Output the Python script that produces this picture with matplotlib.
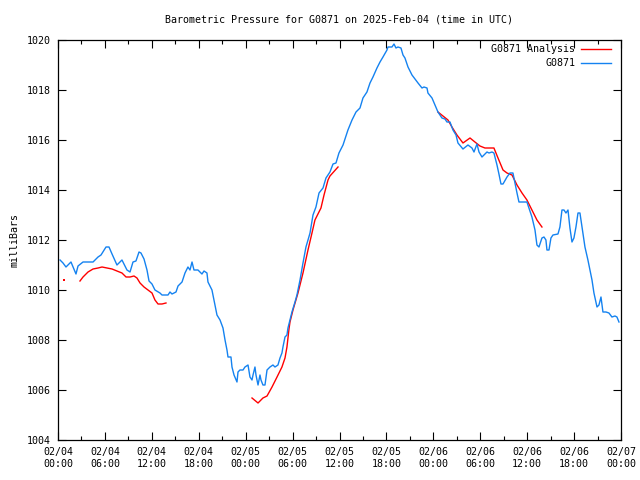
import numpy as np
import matplotlib
matplotlib.use("Agg")
from matplotlib import pyplot as plt
from matplotlib.ticker import MultipleLocator, FuncFormatter

# hours since 2025-02-04 00:00 UTC, pressure in mb
obs_hours = [0.26, 0.64, 1.02, 1.66, 2.30, 2.56, 3.20, 3.84, 4.48, 5.12, 5.50, 6.14, 6.52, 6.91,
             7.54, 8.18, 8.82, 9.21, 9.59, 9.97, 10.36, 10.61, 11.00, 11.38, 11.64, 12.02, 12.40,
             13.04, 13.30, 14.07, 14.32, 14.58, 15.09, 15.35, 15.86, 16.24, 16.62, 16.88, 17.14,
             17.39, 17.90, 18.41, 18.67, 19.05, 19.18, 19.69, 20.08, 20.33, 20.72, 21.10, 21.36,
             21.61, 21.74, 22.12, 22.25, 22.51, 22.89, 23.02, 23.27, 23.66, 23.91, 24.30, 24.55,
             24.81, 24.94, 25.19, 25.32, 25.58, 25.83, 25.96, 26.21, 26.47, 26.73, 27.11, 27.49,
             27.75, 28.13, 28.39, 28.64, 28.77, 29.03, 29.28, 29.41, 29.67, 29.92, 30.31, 30.56,
             30.95, 31.33, 31.71, 32.23, 32.61, 32.99, 33.38, 33.89, 34.27, 34.78, 35.17, 35.55,
             35.93, 36.45, 37.08, 37.60, 38.11, 38.62, 39.00, 39.51, 39.90, 40.28, 40.79, 41.18,
             41.56, 42.07, 42.20, 42.71, 42.97, 43.22, 43.48, 43.86, 44.12, 44.37, 44.76, 45.27,
             45.65, 46.04, 46.55, 46.80, 47.19, 47.31, 47.83, 48.21, 48.59, 49.10, 49.49, 49.74,
             50.13, 50.51, 50.90, 51.15, 51.79, 52.43, 52.94, 53.20, 53.58, 53.84, 54.22, 54.86,
             55.12, 55.50, 55.75, 56.14, 56.39, 56.65, 56.91, 57.42, 57.80, 58.18, 58.44, 58.70,
             58.95, 59.97, 60.10, 60.61, 61.00, 61.25, 61.51, 61.89, 62.15, 62.40, 62.53, 62.79,
             63.04, 63.30, 63.94, 64.19, 64.45, 64.71, 64.96, 65.22, 65.47, 65.73, 65.98, 66.24,
             66.50, 66.75, 67.01, 67.39, 67.77, 68.29, 68.54, 68.93, 69.18, 69.44, 69.69, 70.08,
             70.46, 70.84, 71.23, 71.48, 71.74]
obs_mb = [1011.20, 1011.08, 1010.92, 1011.12, 1010.64, 1010.96, 1011.12, 1011.12, 1011.12, 1011.32,
          1011.40, 1011.72, 1011.72, 1011.44, 1011.00, 1011.20, 1010.80, 1010.72, 1011.12, 1011.16,
          1011.52, 1011.48, 1011.24, 1010.80, 1010.36, 1010.24, 1010.00, 1009.88, 1009.80, 1009.80,
          1009.92, 1009.84, 1009.92, 1010.16, 1010.32, 1010.68, 1010.92, 1010.80, 1011.12, 1010.80,
          1010.80, 1010.64, 1010.76, 1010.68, 1010.32, 1010.00, 1009.40, 1009.00, 1008.80, 1008.48,
          1008.00, 1007.60, 1007.32, 1007.32, 1006.92, 1006.60, 1006.32, 1006.72, 1006.80, 1006.80,
          1006.92, 1007.00, 1006.52, 1006.40, 1006.60, 1006.92, 1006.60, 1006.20, 1006.60, 1006.40,
          1006.20, 1006.20, 1006.80, 1006.92, 1007.00, 1006.92, 1007.00, 1007.28, 1007.48, 1007.72,
          1008.12, 1008.20, 1008.48, 1008.80, 1009.12, 1009.52, 1009.80, 1010.40, 1011.08, 1011.72,
          1012.28, 1013.00, 1013.32, 1013.88, 1014.08, 1014.48, 1014.72, 1015.04, 1015.08, 1015.48,
          1015.80, 1016.40, 1016.80, 1017.12, 1017.28, 1017.68, 1017.92, 1018.28, 1018.52, 1018.88,
          1019.12, 1019.32, 1019.60, 1019.72, 1019.72, 1019.84, 1019.68, 1019.72, 1019.68, 1019.40,
          1019.28, 1018.92, 1018.60, 1018.44, 1018.28, 1018.08, 1018.12, 1018.08, 1017.88, 1017.68,
          1017.40, 1017.12, 1016.88, 1016.84, 1016.72, 1016.72, 1016.40, 1016.20, 1015.88, 1015.64,
          1015.80, 1015.68, 1015.52, 1015.84, 1015.52, 1015.32, 1015.52, 1015.48, 1015.52, 1015.48,
          1015.00, 1014.64, 1014.24, 1014.24, 1014.52, 1014.68, 1014.68, 1014.28, 1013.88, 1013.52,
          1013.52, 1013.40, 1012.92, 1012.40, 1011.80, 1011.72, 1012.08, 1012.12, 1012.00, 1011.60,
          1011.60, 1012.08, 1012.20, 1012.24, 1012.52, 1013.20, 1013.20, 1013.08, 1013.20, 1012.48,
          1011.92, 1012.08, 1012.52, 1013.08, 1013.08, 1012.52, 1011.72, 1011.20, 1010.40, 1009.88,
          1009.32, 1009.40, 1009.72, 1009.12, 1009.12, 1009.08, 1008.92, 1008.96, 1008.92, 1008.72]

# analysis series, nan marks a gap
ana_hours = [0.77, np.nan,
             2.81, 3.20, 3.84, 4.48, 5.12, 5.63, 6.27, 6.91, 7.54, 8.18, 8.70, 9.21, 9.72, 10.10,
             10.49, 11.00, 11.51, 12.02, 12.40, 12.79, 13.30, 13.81, np.nan,
             24.81, 25.58, 26.21, 26.73, 27.37, 28.01, 28.64, 29.03, 29.28, 29.54, 29.67, 30.05,
             30.69, 31.33, 31.97, 32.48, 32.86, 33.63, 34.02, 34.53, 34.78, 35.81, np.nan,
             48.59, 49.23, 49.87, 50.38, 51.02, 51.79, 52.69, 53.32, 53.96, 54.60, 55.75, 56.27,
             56.91, 57.42, 58.06, 58.70, 59.34, 59.97, 60.61, 61.25, 61.89]
ana_mb = [1010.40, np.nan,
          1010.36, 1010.52, 1010.72, 1010.84, 1010.88, 1010.92, 1010.88, 1010.84, 1010.76, 1010.68,
          1010.52, 1010.52, 1010.56, 1010.48, 1010.28, 1010.12, 1010.00, 1009.88, 1009.60, 1009.44,
          1009.44, 1009.48, np.nan,
          1005.68, 1005.48, 1005.68, 1005.76, 1006.12, 1006.52, 1006.92, 1007.28, 1007.72, 1008.44,
          1008.72, 1009.20, 1009.88, 1010.68, 1011.60, 1012.28, 1012.80, 1013.28, 1013.80, 1014.40,
          1014.56, 1014.92, np.nan,
          1017.12, 1016.96, 1016.80, 1016.52, 1016.20, 1015.88, 1016.08, 1015.92, 1015.76, 1015.68,
          1015.68, 1015.28, 1014.80, 1014.68, 1014.60, 1014.20, 1013.88, 1013.60, 1013.20, 1012.80,
          1012.52]

title = "Barometric Pressure for G0871 on 2025-Feb-04 (time in UTC)"
red = "#ff0000"
blue = "#1482f0"

plt.rcParams['font.family'] = ['DejaVu Sans Mono']
plt.rcParams['font.size'] = 7.2

fig = plt.figure(figsize=(6.4, 4.8), dpi=100)
ax = fig.add_axes([58/640, 40/480, (621-58)/640, 400/480])

ax.plot(ana_hours, ana_mb, color=red, lw=1.0)
ax.plot(ana_hours[:1], ana_mb[:1], color=red, marker='s', ms=1.5, mew=0, ls='none')
ax.plot(obs_hours, obs_mb, color=blue, lw=1.0)

ax.set_xlim(0, 72)
ax.set_ylim(1004, 1020)
ax.xaxis.set_major_locator(MultipleLocator(6))
ax.xaxis.set_minor_locator(MultipleLocator(3))
ax.yaxis.set_major_locator(MultipleLocator(2))

def fmt(h, pos):
    d = 4 + int(h // 24)
    return "02/%02d\n%02d:00" % (d, int(h % 24))

ax.xaxis.set_major_formatter(FuncFormatter(fmt))
ax.tick_params(which='both', direction='in', top=True, right=True, colors='black')
ax.tick_params(which='major', length=6, width=0.8, pad=5)
ax.tick_params(which='minor', length=3, width=0.8)
ax.tick_params(axis='y', pad=5)
for s in ax.spines.values():
    s.set_linewidth(0.9)

fig.text(0.53, 1 - 20/480, title, ha='center', va='center')
fig.text(14/640, 0.5, "milliBars", rotation=90, ha='center', va='center')

# gnuplot style key, text right of sample
ax.text(0.919, 0.977, "G0871 Analysis", transform=ax.transAxes, ha='right', va='center')
ax.plot([0.929, 0.982], [0.977, 0.977], color=red, lw=1.0, transform=ax.transAxes)
ax.text(0.919, 0.942, "G0871", transform=ax.transAxes, ha='right', va='center')
ax.plot([0.929, 0.982], [0.942, 0.942], color=blue, lw=1.0, transform=ax.transAxes)

fig.savefig("out.png", dpi=100)
